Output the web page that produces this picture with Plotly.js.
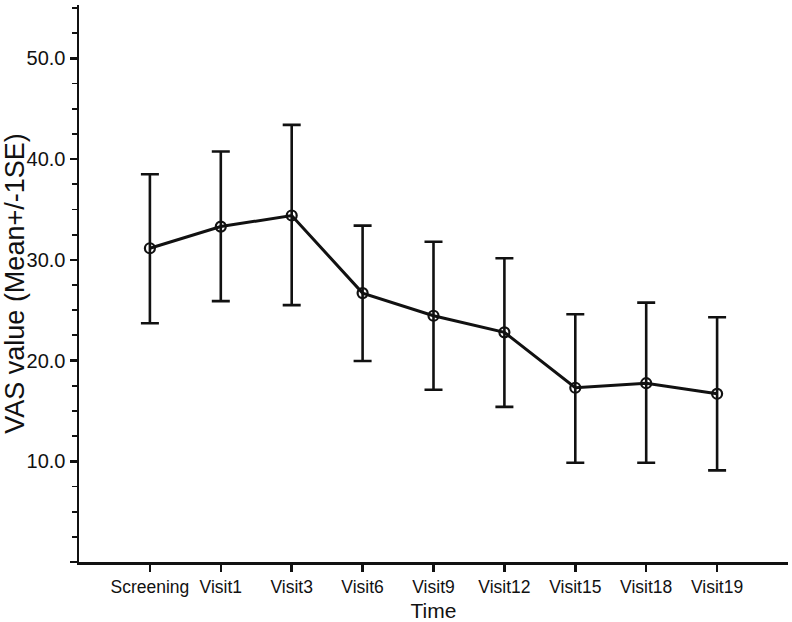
<!DOCTYPE html>
<html>
<head>
<meta charset="utf-8">
<script src="https://cdn.plot.ly/plotly-3.0.1.min.js"></script>
<style>html,body{margin:0;padding:0;background:#fff;}#chart{width:792px;height:622px;}</style>
</head>
<body>
<div id="chart"></div>
<script>
const categories = ["Screening","Visit1","Visit3","Visit6","Visit9","Visit12","Visit15","Visit18","Visit19"];
const meanValues = [31.15, 33.3, 34.4, 26.7, 24.45, 22.8, 17.3, 17.75, 16.7];
const upperValues = [38.5, 40.75, 43.4, 33.4, 31.8, 30.15, 24.6, 25.75, 24.3];
const lowerValues = [23.7, 25.9, 25.5, 19.95, 17.1, 15.4, 9.85, 9.85, 9.1];
const yTickValues = [0, 10, 20, 30, 40, 50];
const yTickLabels = ["", "10.0", "20.0", "30.0", "40.0", "50.0"];

const errPlus = meanValues.map((m, i) => upperValues[i] - m);
const errMinus = meanValues.map((m, i) => m - lowerValues[i]);

const trace = {
  x: categories,
  y: meanValues,
  type: "scatter",
  mode: "lines+markers",
  line: {color: "#111", width: 3},
  marker: {symbol: "circle-open", size: 10, color: "#111", line: {width: 2.2, color: "#111"}},
  error_y: {type: "data", symmetric: false, array: errPlus, arrayminus: errMinus,
            color: "#111", thickness: 2.6, width: 9},
  hoverinfo: "skip",
  showlegend: false
};

const layout = {
  width: 792, height: 622,
  margin: {l: 79, r: 4, t: 5, b: 60},
  paper_bgcolor: "#fff", plot_bgcolor: "#fff",
  font: {family: "Liberation Sans, Arial, sans-serif", color: "#111"},
  xaxis: {
    type: "category",
    range: [-1, 9],
    showgrid: false, zeroline: false,
    showline: true, linecolor: "#111", linewidth: 2.5,
    ticks: "outside", ticklen: 7, tickwidth: 2.5, tickcolor: "#111",
    tickfont: {size: 17.5, color: "#111"},
    title: {text: "Time", font: {size: 21, color: "#111"}, standoff: 8}
  },
  yaxis: {
    range: [0, 55.3],
    showgrid: false, zeroline: false,
    showline: true, linecolor: "#111", linewidth: 2.5,
    tickmode: "array", tickvals: yTickValues, ticktext: yTickLabels,
    ticks: "outside", ticklen: 7, tickwidth: 2.5, tickcolor: "#111",
    tickfont: {size: 20, color: "#111"},
    minor: {ticks: "outside", ticklen: 5, tickwidth: 1.8, tickcolor: "#111", dtick: 2.5, tick0: 0, showgrid: false},
    title: {text: "VAS value (Mean+/-1SE)", font: {size: 27, color: "#111"}, standoff: 8}
  }
};

Plotly.newPlot("chart", [trace], layout, {staticPlot: true, displayModeBar: false});
</script>
</body>
</html>
